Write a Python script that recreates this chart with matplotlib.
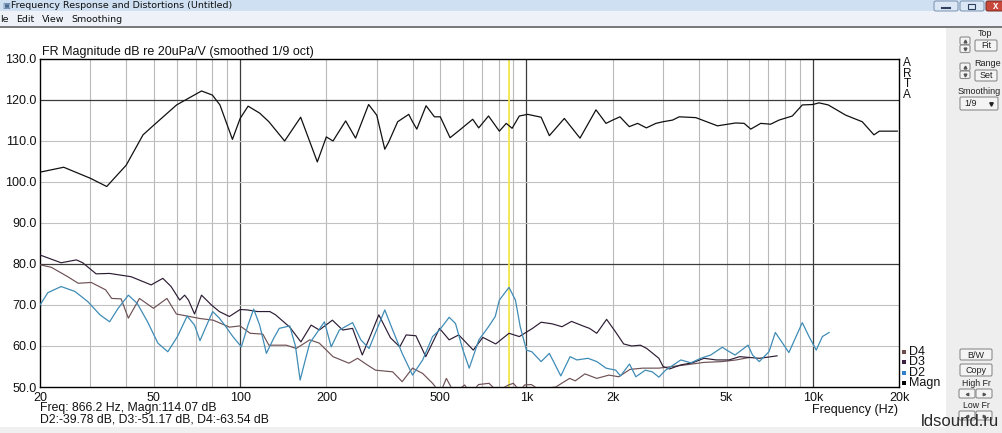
import numpy as np
import matplotlib
matplotlib.use('Agg')
import matplotlib.pyplot as plt
from matplotlib.patches import Rectangle, FancyBboxPatch
from matplotlib.ticker import NullLocator

plt.rcParams['font.family'] = ['Liberation Sans', 'DejaVu Sans']

# ---- data ----
mag_f = [20, 24.2, 30, 34.2, 40, 45.8, 50, 60, 73.3, 80, 85, 94, 100, 106.6, 117, 126, 143,
         162.7, 186, 200, 211, 233.6, 253, 281, 300, 320, 330, 355, 388, 400, 414, 446, 477,
         500, 541, 585, 649, 681, 737, 804, 850, 891, 944, 1010, 1125, 1202, 1356, 1538, 1749,
         1896, 2000, 2121, 2286, 2444, 2622, 2832, 3000, 3237, 3416, 3904, 4645, 5383, 5757,
         6072, 6577, 7122, 7621, 8483, 9190, 10000, 10514, 11320, 13030, 14880, 16350, 17070,
         19720]
mag_db = [102.4, 103.6, 100.9, 98.9, 104.1, 111.5, 113.9, 118.8, 122.2, 121.2, 118.8, 110.4,
          115.5, 118.5, 116.8, 114.7, 110.0, 115.8, 104.9, 111.0, 110.0, 114.9, 110.7, 118.9,
          116.3, 108.0, 109.7, 114.7, 116.5, 114.7, 112.9, 118.6, 115.9, 115.9, 110.8, 112.7,
          115.3, 113.2, 116.1, 112.4, 114.3, 113.1, 116.1, 116.5, 115.8, 111.3, 115.5, 110.7,
          117.6, 114.3, 115.1, 115.9, 113.5, 114.3, 113.2, 114.3, 114.7, 115.1, 115.9, 115.7,
          113.7, 114.4, 114.3, 112.9, 114.3, 114.1, 115.1, 116.1, 118.8, 118.9, 119.3, 118.8,
          116.3, 114.7, 111.5, 112.4, 112.4]

d2_f = [20, 21.3, 23.7, 26.5, 29.4, 32.4, 35, 37.5, 40.7, 43.7, 47.5, 51.6, 55.9, 60.4, 65.3,
        69.3, 72.4, 76, 80.2, 84.6, 89.2, 94.3, 101, 106.5, 111.5, 117, 123.5, 131, 137, 149,
        156, 162, 168, 175, 197, 208, 222, 247, 264, 282, 300, 320, 341, 368, 400, 434, 470,
        497, 537, 565, 600, 631, 682, 737, 778, 804, 869, 915, 951, 1000, 1044, 1125, 1202,
        1318, 1420, 1500, 1640, 1760, 1896, 2050, 2130, 2290, 2410, 2600, 2750, 2900, 3060,
        3460, 3750, 4060, 4400, 4830, 5000, 5350, 5940, 6160, 6500, 7030, 7400, 8250, 9190,
        9700, 10280, 10800, 11400]
d2_db = [70.0, 73.0, 74.5, 73.3, 70.8, 67.6, 65.9, 69.2, 72.4, 70.4, 65.9, 60.7, 58.6, 62.3,
         67.3, 65.1, 61.3, 64.7, 68.4, 66.8, 64.7, 62.3, 59.8, 65.1, 69.0, 65.1, 58.2, 61.9,
         64.3, 64.9, 60.0, 51.7, 56.0, 60.7, 65.9, 59.8, 63.9, 65.7, 61.5, 59.4, 64.0, 68.8,
         63.9, 58.2, 52.9, 56.6, 62.3, 63.9, 67.0, 65.5, 59.0, 54.6, 61.5, 64.7, 67.2, 71.2,
         74.3, 71.2, 64.7, 59.0, 58.6, 56.2, 58.2, 52.7, 57.4, 56.6, 57.0, 56.2, 54.6, 54.1,
         52.7, 55.6, 52.5, 54.1, 53.7, 52.4, 54.1, 56.6, 55.9, 57.0, 57.8, 59.7, 59.0, 57.8,
         60.2, 57.8, 56.2, 58.6, 63.3, 58.4, 65.7, 62.3, 59.0, 62.3, 63.3]

d3_f = [20, 23.7, 26.8, 28.2, 31.4, 35, 41.6, 48.9, 53.7, 57.4, 61.5, 64, 66, 69.3, 73.3, 79.4,
        84.6, 91.7, 100, 106, 115, 127, 133, 149, 163, 177, 189, 210, 228, 247, 267, 285, 305,
        335, 361, 380, 411, 445, 497, 537, 580, 652, 704, 781, 869, 944, 1050, 1125, 1231,
        1330, 1437, 1574, 1660, 1760, 1905, 2044, 2185, 2332, 2500, 2630, 2900, 3000, 3160,
        3460, 3800, 4170, 4600, 5100, 5550, 6500, 7000, 7500]
d3_db = [82.2, 80.3, 81.0, 80.3, 77.6, 77.7, 76.9, 74.9, 76.5, 74.5, 71.2, 72.4, 71.2, 67.8,
         72.4, 70.0, 68.4, 67.2, 68.9, 68.8, 68.4, 68.4, 67.6, 64.6, 61.0, 65.1, 63.9, 66.3,
         63.9, 64.3, 57.8, 62.5, 67.6, 62.0, 59.8, 62.7, 62.5, 57.4, 64.3, 61.5, 62.7, 59.0,
         62.1, 60.5, 63.1, 62.3, 64.3, 65.8, 65.4, 64.7, 66.0, 64.9, 64.3, 63.1, 66.5, 63.5,
         60.5, 60.0, 60.2, 59.4, 57.0, 55.0, 54.4, 55.4, 55.9, 57.0, 56.6, 56.6, 57.4, 57.0,
         57.3, 57.6]

d4_f = [20, 21.9, 25, 27.2, 30.2, 33.9, 35.6, 38.4, 40.7, 44.5, 49.8, 55.5, 59.9, 72.5, 80.5,
        91.8, 100, 108.4, 120, 126, 145, 157, 175, 189, 211, 240, 257, 275, 297, 341, 368,
        400, 434, 470, 500, 525, 560, 608, 640, 680, 740, 790, 866, 900, 950, 985, 1040, 1100,
        1265, 1415, 1480, 1600, 1760, 1940, 2100, 2300, 2550, 2900, 3230, 3600, 4170, 4830,
        5400, 6000]
d4_db = [79.8, 79.2, 76.9, 75.3, 75.5, 73.7, 71.6, 71.5, 66.8, 71.6, 69.2, 71.6, 67.8, 66.7,
         66.3, 64.6, 64.9, 63.1, 62.9, 60.2, 60.2, 59.4, 61.5, 60.7, 57.4, 55.8, 57.0, 55.6,
         54.1, 53.7, 51.3, 54.6, 53.3, 50.9, 48.5, 52.1, 48.5, 50.5, 48.5, 50.6, 50.9, 49.0,
         50.5, 50.9, 49.0, 50.5, 50.6, 49.5, 50.0, 52.1, 51.5, 53.2, 52.1, 52.9, 52.5, 54.3,
         54.6, 54.6, 55.0, 55.4, 56.0, 56.2, 56.6, 57.2]

cursor_f = 866.2
x_ticks = [20, 50, 100, 200, 500, 1000, 2000, 5000, 10000, 20000]
x_labels = ['20', '50', '100', '200', '500', '1k', '2k', '5k', '10k', '20k']
y_ticks = [50, 60, 70, 80, 90, 100, 110, 120, 130]

W, H = 1002, 433
fig = plt.figure(figsize=(W / 100, H / 100), dpi=100)

# window chrome drawn in pixel coordinates
bg = fig.add_axes([0, 0, 1, 1])
bg.set_xlim(0, W)
bg.set_ylim(H, 0)
bg.axis('off')


def box(x, y, w, h, fc, ec='none', lw=0.8, z=1):
    bg.add_patch(Rectangle((x, y), w, h, facecolor=fc, edgecolor=ec, linewidth=lw, zorder=z))


def button(x, y, w, h, label='', fs=6.5):
    bg.add_patch(FancyBboxPatch((x, y), w, h, boxstyle='round,pad=0,rounding_size=1.5',
                                facecolor='#f4f4f4', edgecolor='#8c8c8c', linewidth=0.8, zorder=3))
    if label:
        bg.text(x + w / 2, y + h / 2 + 0.5, label, ha='center', va='center', fontsize=fs,
                color='#222222', zorder=4)


box(0, 0, W, H, 'white', z=0)
box(0, 0, W, 11, '#cfe0f2')
box(0, 11, W, 15, '#eef2f8')
box(0, 26, W, 1.5, '#7a7a7a')
box(946, 27.5, W - 946, H, '#eeeeee')
box(0, 427, 946, 6, '#f0f0f0')

bg.text(2, 5.5, '▣', fontsize=6, va='center', color='#4a6a90', family='DejaVu Sans')
bg.text(11, 5.5, 'Frequency Response and Distortions (Untitled)', fontsize=6.8,
        va='center', color='#101010', family='DejaVu Sans')
for x0, lab in [(0, 'le'), (16, 'Edit'), (42, 'View'), (71, 'Smoothing')]:
    bg.text(x0, 19, lab, fontsize=6.8, va='center', color='#101010', family='DejaVu Sans')

# window buttons
bg.add_patch(FancyBboxPatch((934, 1), 24, 10, boxstyle='round,pad=0,rounding_size=2',
                            facecolor='#dbe7f4', edgecolor='#7890b0', linewidth=0.7, zorder=3))
bg.plot([942, 950], [7.5, 7.5], color='#304060', lw=1.5, zorder=4)
bg.add_patch(FancyBboxPatch((960, 1), 24, 10, boxstyle='round,pad=0,rounding_size=2',
                            facecolor='#dbe7f4', edgecolor='#7890b0', linewidth=0.7, zorder=3))
bg.add_patch(Rectangle((968, 3.5), 7, 5, facecolor='none', edgecolor='#304060', lw=0.8, zorder=4))
bg.add_patch(FancyBboxPatch((986, 1), 20, 10, boxstyle='round,pad=0,rounding_size=2',
                            facecolor='#c8483c', edgecolor='#7a2a20', linewidth=0.7, zorder=3))
bg.text(996, 6, 'x', ha='center', va='center', fontsize=7, color='white', fontweight='bold', zorder=4)

# right control panel
for yy in (37, 63):
    button(960, yy, 10, 7.5)
    button(960, yy + 8, 10, 7.5)
    bg.plot([965], [yy + 3.8], marker='^', ms=2, color='#555555', zorder=5)
    bg.plot([965], [yy + 11.8], marker='v', ms=2, color='#555555', zorder=5)
bg.text(985, 34, 'Top', fontsize=6.5, ha='center', va='center', color='#222222')
button(975, 40, 22, 11, 'Fit')
bg.text(988, 64, 'Range', fontsize=6.5, ha='center', va='center', color='#222222')
button(975, 70, 22, 11, 'Set')
bg.text(979, 91, 'Smoothing', fontsize=6.5, ha='center', va='center', color='#222222')
button(960, 97, 38, 13)
bg.text(964, 104, '1/9', fontsize=6.5, va='center', color='#222222', zorder=5)
bg.plot([991], [104], marker='v', ms=2.5, color='#222222', zorder=5)
button(960, 349, 32, 11, 'B/W')
button(960, 364, 32, 12, 'Copy')
bg.text(976, 383, 'High Fr', fontsize=6.3, ha='center', va='center', color='#222222')
bg.text(976, 405, 'Low Fr', fontsize=6.3, ha='center', va='center', color='#222222')
for yy in (389, 411):
    button(959, yy, 16, 9)
    button(976, yy, 16, 9)
    bg.plot([967], [yy + 4.5], marker='<', ms=1.8, color='#555555', zorder=5)
    bg.plot([984], [yy + 4.5], marker='>', ms=1.8, color='#555555', zorder=5)

# ---- the measurement plot ----
ax = fig.add_axes([40 / W, (H - 387) / H, 859 / W, 328 / H])
ax.set_xscale('log')
ax.set_xlim(20, 20000)
ax.set_ylim(50, 130)
ax.patch.set_alpha(0)

minor_f = [m * d for d in (10, 100, 1000) for m in range(2, 10) if 20 < m * d < 20000]
for f in minor_f:
    ax.axvline(f, color='#b9b9b9', lw=0.8, zorder=1)
for f in (100, 1000, 10000):
    ax.axvline(f, color='#3c3c3c', lw=0.9, zorder=1)
for v in (60, 70, 90, 100, 110):
    ax.axhline(v, color='#c2c2c2', lw=0.8, zorder=1)
for v in (80, 120):
    ax.axhline(v, color='#3c3c3c', lw=0.9, zorder=1)

ax.axvline(cursor_f, color='#f2e64a', lw=1.3, zorder=2)

ax.plot(d4_f, d4_db, color='#6e5155', lw=0.85, zorder=3)
ax.plot(d3_f, d3_db, color='#2c1c34', lw=0.85, zorder=4)
ax.plot(d2_f, d2_db, color='#3f8cb6', lw=0.9, zorder=5)
ax.plot(mag_f, mag_db, color='#111111', lw=0.9, zorder=6)

ax.set_xticks(x_ticks)
ax.set_xticklabels(x_labels)
ax.xaxis.set_minor_locator(NullLocator())
ax.set_yticks(y_ticks)
ax.set_yticklabels([f'{v:.1f}' for v in y_ticks])
ax.tick_params(axis='both', length=0, labelsize=9, colors='#111111')
ax.tick_params(axis='x', pad=3.5)
ax.tick_params(axis='y', pad=2.5)
for s in ax.spines.values():
    s.set_color('#000000')
    s.set_linewidth(1.0)

# texts around the plot
bg.text(42, 51.5, 'FR Magnitude dB re 20uPa/V (smoothed 1/9 oct)', fontsize=9,
        va='center', color='#111111')
bg.text(907, 79, 'A\nR\nT\nA', fontsize=8.5, ha='center', va='center', linespacing=0.85,
        color='#111111')
bg.text(898, 410, 'Frequency (Hz)', fontsize=9, ha='right', va='center', color='#111111')
bg.text(40, 408, 'Freq: 866.2 Hz, Magn:114.07 dB', fontsize=8.8, va='center', color='#111111')
bg.text(40, 420, 'D2:-39.78 dB, D3:-51.17 dB, D4:-63.54 dB', fontsize=8.8, va='center',
        color='#111111')

legend = [('D4', '#6a4a4a'), ('D3', '#3a2040'), ('D2', '#2f80c8'), ('Magn', '#000000')]
for i, (lab, col) in enumerate(legend):
    yy = 352 + i * 10.3
    box(902, yy - 2, 4, 4, col, z=5)
    bg.text(909, yy, lab, fontsize=9, va='center', color='#111111', zorder=6)

bg.text(999, 421, 'ldsound.ru', fontsize=12, ha='right', va='center', color='#2a2a2a', zorder=6)

fig.savefig('out.png', dpi=100)
